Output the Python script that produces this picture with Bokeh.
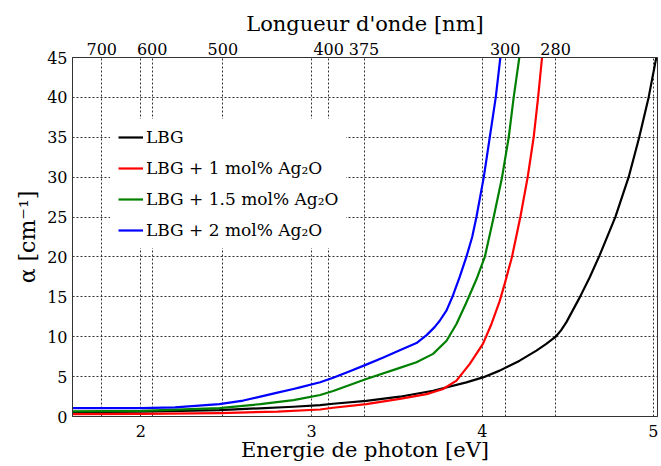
from bokeh.plotting import figure
from bokeh.models import (LinearAxis, FixedTicker, CustomJSTickFormatter, Grid,
                          Range1d, Legend, LegendItem)
from bokeh.embed import file_html
from bokeh.resources import INLINE

# ---- data ----
x_lbg = [1.6, 2.0, 2.46, 2.893, 3.05, 3.126, 3.32, 3.516, 3.711, 3.906, 4.003, 4.101, 4.218, 4.316,
         4.374, 4.429, 4.46, 4.491, 4.569, 4.627, 4.686, 4.778, 4.856, 4.918, 4.973, 5.018]
y_lbg = [0.55, 0.6, 0.8, 1.22, 1.43, 1.6, 1.97, 2.48, 3.23, 4.28, 4.9, 5.75, 7.0, 8.26,
         9.1, 10.0, 10.8, 11.8, 14.9, 17.4, 20.2, 25.0, 30.0, 35.0, 40.0, 45.0]

x_ag1 = [1.6, 2.0, 2.46, 2.8, 3.05, 3.126, 3.32, 3.516, 3.673, 3.77, 3.848, 3.926, 4.003, 4.053,
         4.1, 4.13, 4.173, 4.222, 4.265, 4.30, 4.326, 4.349]
y_ag1 = [0.3, 0.32, 0.43, 0.62, 0.88, 1.1, 1.56, 2.2, 2.8, 3.45, 4.5, 6.6, 9.1, 11.6,
         14.4, 16.6, 20.0, 25.0, 30.0, 35.0, 40.0, 45.0]

x_ag15 = [1.6, 2.0, 2.46, 2.7, 2.893, 2.932, 3.05, 3.126, 3.32, 3.516, 3.614, 3.711, 3.79, 3.848,
          3.906, 3.965, 4.014, 4.066, 4.115, 4.154, 4.183, 4.216]
y_ag15 = [0.63, 0.7, 1.05, 1.55, 2.06, 2.2, 2.7, 3.2, 4.7, 6.1, 6.8, 7.85, 9.5, 11.6,
          14.3, 17.2, 20.0, 25.0, 30.0, 35.0, 40.0, 45.0]

x_ag2 = [1.6, 2.0, 2.2, 2.46, 2.6, 2.7, 2.8, 2.893, 2.932, 3.05, 3.126, 3.22, 3.32, 3.42, 3.516,
         3.614, 3.673, 3.72, 3.75, 3.79, 3.828, 3.867, 3.906, 3.94, 3.965, 4.008, 4.043, 4.078, 4.105]
y_ag2 = [1.05, 1.05, 1.15, 1.55, 2.0, 2.5, 3.0, 3.45, 3.65, 4.3, 4.85, 5.65, 6.5, 7.4, 8.3,
         9.2, 10.2, 11.2, 12.0, 13.3, 15.2, 17.5, 20.0, 22.5, 25.0, 30.0, 35.0, 40.0, 45.0]

labels = ["LBG", "LBG + 1 mol% Ag₂O", "LBG + 1.5 mol% Ag₂O", "LBG + 2 mol% Ag₂O"]
colors = ["#000000", "#ff0000", "#008000", "#0000ff"]

bottom_ticks = [2, 3, 4, 5]
y_ticks = [0, 5, 10, 15, 20, 25, 30, 35, 40, 45]
wavelengths = [700, 600, 500, 400, 375, 300, 280]
top_ticks = [1240.0 / w for w in wavelengths]

FONT = "DejaVu Serif"

p = figure(width=660, height=464, x_range=Range1d(1.6, 5.025), y_range=Range1d(0, 45),
           output_backend="svg", toolbar_location=None,
           min_border_left=72, min_border_right=3, min_border_top=57, min_border_bottom=48,
           x_axis_label="Energie de photon [eV]", y_axis_label="α [cm⁻¹]")
p.outline_line_color = "#333333"
p.outline_line_width = 1

bottom_axis = p.below[0]
left_axis = p.left[0]
bottom_axis.ticker = FixedTicker(ticks=bottom_ticks)
left_axis.ticker = FixedTicker(ticks=y_ticks)

top_axis = LinearAxis(ticker=FixedTicker(ticks=top_ticks),
                      formatter=CustomJSTickFormatter(code="return Math.round(1240/tick).toString();"),
                      axis_label="Longueur d'onde [nm]")
p.add_layout(top_axis, "above")

for ax in [bottom_axis, left_axis, top_axis]:
    ax.major_label_text_font = FONT
    ax.major_label_text_font_size = "16px"
    ax.major_label_text_color = "black"
    ax.axis_label_text_font = FONT
    ax.axis_label_text_font_size = "21px"
    ax.axis_label_text_font_style = "normal"
    ax.axis_label_text_color = "black"
    ax.major_tick_in = 0
    ax.major_tick_out = 0
    ax.minor_tick_line_color = None
    ax.axis_line_color = "#333333"

left_axis.axis_label_text_font_size = "22px"
bottom_axis.major_label_standoff = 8
bottom_axis.axis_label_standoff = -2
top_axis.major_label_standoff = 3
top_axis.axis_label_standoff = 4
left_axis.major_label_standoff = 5
left_axis.axis_label_standoff = 4

grid_kw = dict(grid_line_color="#333333", grid_line_dash="2 2", grid_line_width=1)
p.xgrid.grid_line_color = "#333333"
p.xgrid.grid_line_dash = "2 2"
p.ygrid.grid_line_color = "#333333"
p.ygrid.grid_line_dash = "2 2"
p.add_layout(Grid(dimension=0, ticker=top_axis.ticker, **grid_kw))

series = [(x_lbg, y_lbg), (x_ag1, y_ag1), (x_ag15, y_ag15), (x_ag2, y_ag2)]
items = []
for (xs, ys), lab, col in zip(series, labels, colors):
    r = p.line(xs, ys, line_color=col, line_width=2.2, line_join="round")
    items.append(LegendItem(label=lab, renderers=[r]))

legend = Legend(items=items, location=(38, 168))
legend.label_text_font = FONT
legend.label_text_font_size = "17px"
legend.label_text_color = "black"
legend.glyph_width = 25
legend.glyph_height = 20
legend.label_height = 20
legend.label_standoff = 3
legend.spacing = 11
legend.padding = 8
legend.border_line_alpha = 0
legend.background_fill_color = "white"
legend.background_fill_alpha = 1
p.add_layout(legend, "center")

open("out.html", "w").write(file_html(p, INLINE))
